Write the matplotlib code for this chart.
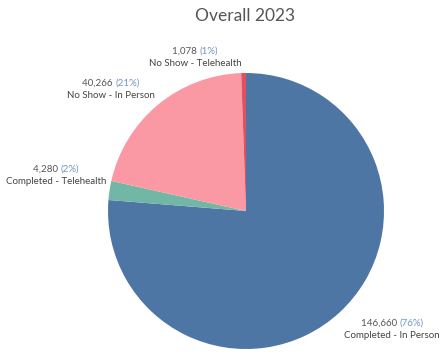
import matplotlib
matplotlib.use("Agg")
import matplotlib.pyplot as plt

# Appointment outcomes for the year
categories = ["Completed - In Person", "Completed - Telehealth",
              "No Show - In Person", "No Show - Telehealth"]
counts = [146660, 4280, 40266, 1078]
colors = ["#4e76a4", "#72b7a6", "#fa99a3", "#e0505e"]

title = "Overall 2023"

W, H, DPI = 447, 354, 100
fig = plt.figure(figsize=(W / DPI, H / DPI), dpi=DPI)
fig.patch.set_facecolor("white")

# pie placement in pixels (center and radius)
cx, cy, r = 246, 211, 138
ax = fig.add_axes([(cx - r) / W, (H - cy - r) / H, 2 * r / W, 2 * r / H])
ax.pie(counts, colors=colors, startangle=90, counterclock=False, radius=1.0,
       wedgeprops=dict(linewidth=0))
ax.set_xlim(-1, 1)
ax.set_ylim(-1, 1)
ax.set_aspect("equal")
ax.axis("off")

fig.text(0.5 * (193 + 298) / W, 1 - 16 / H, title, ha="center", va="center",
         fontsize=12.5, color="#555555", family="Lato")

# label anchor points in pixels (center x, value line y, name line y)
label_pos = [(392, 323, 336), (56, 169, 182), (111, 83, 96), (195, 51, 63)]

total = sum(counts)
font = dict(family="Lato", fontsize=7)
renderer = fig.canvas.get_renderer()

def px(x, y):
    return x / W, 1 - y / H

for name, val, (lx, ly1, ly2) in zip(categories, counts, label_pos):
    pct = round(val / total * 100)
    vtxt = f"{val:,} "
    ptxt = f"({pct}%)"
    t1 = fig.text(0, 0, vtxt, **font)
    t2 = fig.text(0, 0, ptxt, **font)
    w1 = t1.get_window_extent(renderer).width
    w2 = t2.get_window_extent(renderer).width
    x0 = lx - (w1 + w2) / 2
    t1.set_position(px(x0, ly1))
    t1.set_va("center")
    t1.set_color("#555555")
    t2.set_position(px(x0 + w1, ly1))
    t2.set_va("center")
    t2.set_color("#6f95c2")
    fig.text(*px(lx, ly2), name, ha="center", va="center", color="#444444", **font)

fig.savefig("out.png", dpi=DPI)
